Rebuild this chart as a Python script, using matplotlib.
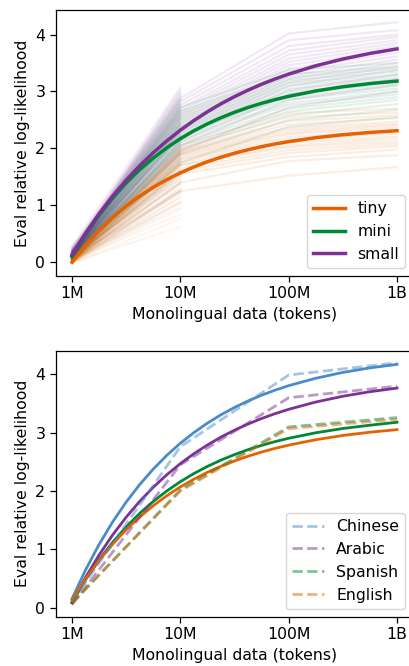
import matplotlib
matplotlib.use('Agg')
import matplotlib.pyplot as plt

# ---------------- data ----------------
tokens = [1e6, 1e7, 1e8, 1e9]
tick_labels = ['1M', '10M', '100M', '1B']
fit_tokens = [1.000e6, 1.334e6, 1.778e6, 2.371e6, 3.162e6, 4.217e6, 5.623e6, 7.499e6,
              1.000e7, 1.334e7, 1.778e7, 2.371e7, 3.162e7, 4.217e7, 5.623e7, 7.499e7,
              1.000e8, 1.778e8, 3.162e8, 5.623e8, 1.000e9]

sizes = ['tiny', 'mini', 'small']

# fitted curves (top panel)
tiny_fit = [0.000, 0.297, 0.558, 0.786, 0.986, 1.162, 1.316, 1.451,
            1.570, 1.674, 1.765, 1.845, 1.915, 1.976, 2.030, 2.078,
            2.119, 2.188, 2.240, 2.280, 2.311]
mini_fit = [0.100, 0.488, 0.829, 1.129, 1.394, 1.626, 1.831, 2.011,
            2.170, 2.310, 2.432, 2.540, 2.635, 2.719, 2.793, 2.858,
            2.915, 3.009, 3.083, 3.139, 3.183]
small_fit = [0.130, 0.508, 0.851, 1.161, 1.441, 1.695, 1.924, 2.132,
             2.320, 2.490, 2.644, 2.784, 2.910, 3.024, 3.128, 3.221,
             3.306, 3.452, 3.571, 3.669, 3.749]

# individual languages with data up to 1B (values at 1M, 10M, 100M, 1B)
tiny_long = [
    [0.00, 1.25, 1.52, 1.67], [0.02, 1.40, 1.78, 1.88], [-0.02, 1.55, 1.85, 1.98],
    [0.01, 1.60, 1.92, 2.04], [0.03, 1.65, 1.97, 2.08], [0.00, 1.70, 2.02, 2.12],
    [0.05, 1.72, 2.05, 2.17], [0.02, 1.76, 2.10, 2.21], [0.04, 1.80, 2.15, 2.26],
    [0.06, 1.82, 2.20, 2.31], [0.03, 1.85, 2.25, 2.36], [0.05, 1.88, 2.28, 2.40],
    [0.08, 1.90, 2.32, 2.43], [0.06, 1.93, 2.36, 2.47], [0.10, 1.95, 2.42, 2.53],
    [0.07, 1.97, 2.48, 2.58], [0.09, 2.00, 2.55, 2.63], [0.12, 2.05, 2.62, 2.70],
]
mini_long = [
    [0.05, 1.75, 2.38, 2.55], [0.08, 1.90, 2.50, 2.68], [0.06, 2.00, 2.58, 2.78],
    [0.10, 2.05, 2.65, 2.85], [0.07, 2.10, 2.70, 2.90], [0.09, 2.15, 2.76, 2.95],
    [0.12, 2.20, 2.80, 3.00], [0.10, 2.25, 2.86, 3.05], [0.11, 2.28, 2.90, 3.10],
    [0.13, 2.32, 2.95, 3.14], [0.12, 2.36, 3.00, 3.18], [0.14, 2.40, 3.05, 3.22],
    [0.15, 2.45, 3.10, 3.26], [0.13, 2.50, 3.15, 3.30], [0.16, 2.55, 3.20, 3.35],
    [0.18, 2.60, 3.25, 3.40], [0.15, 2.65, 3.30, 3.44], [0.20, 2.72, 3.38, 3.50],
]
small_long = [
    [0.08, 1.95, 2.72, 3.00], [0.10, 2.05, 2.85, 3.12], [0.12, 2.12, 2.95, 3.22],
    [0.11, 2.18, 3.02, 3.30], [0.14, 2.22, 3.10, 3.38], [0.13, 2.28, 3.16, 3.44],
    [0.15, 2.32, 3.22, 3.50], [0.16, 2.36, 3.28, 3.56], [0.14, 2.40, 3.34, 3.62],
    [0.17, 2.45, 3.40, 3.68], [0.18, 2.50, 3.46, 3.74], [0.16, 2.55, 3.52, 3.80],
    [0.19, 2.60, 3.58, 3.85], [0.20, 2.65, 3.65, 3.90], [0.18, 2.70, 3.72, 3.96],
    [0.22, 2.76, 3.80, 4.00], [0.21, 2.82, 3.90, 4.08], [0.25, 2.88, 4.02, 4.22],
]

# individual languages with data only at 1M and 10M
tiny_short_1m = [0.00, -0.02, 0.03, 0.01, 0.05, -0.01, 0.02, 0.04, 0.00, 0.06,
                 0.03, -0.03, 0.01, 0.07, 0.02, 0.04, 0.00, 0.05, 0.08, 0.03,
                 0.01, 0.06, 0.02, 0.04, 0.09, 0.00, 0.03, 0.05, 0.07, 0.10]
tiny_short_10m = [0.62, 0.76, 0.84, 0.93, 0.97, 1.04, 1.07, 1.13, 1.15, 1.21,
                  1.23, 1.29, 1.31, 1.37, 1.40, 1.43, 1.49, 1.51, 1.57, 1.60,
                  1.63, 1.69, 1.71, 1.77, 1.80, 1.84, 1.91, 1.94, 2.01, 2.10]
mini_short_1m = [0.05, 0.08, 0.03, 0.10, 0.06, 0.12, 0.04, 0.09, 0.07, 0.11,
                 0.13, 0.05, 0.08, 0.14, 0.10, 0.06, 0.12, 0.09, 0.15, 0.11,
                 0.07, 0.13, 0.10, 0.16, 0.12, 0.08, 0.14, 0.11, 0.17, 0.13]
mini_short_10m = [1.05, 1.26, 1.39, 1.53, 1.61, 1.71, 1.77, 1.86, 1.91, 1.99,
                  2.03, 2.11, 2.14, 2.21, 2.24, 2.31, 2.34, 2.41, 2.44, 2.51,
                  2.54, 2.61, 2.63, 2.69, 2.71, 2.77, 2.79, 2.85, 2.87, 2.95]
small_short_1m = [0.08, 0.12, 0.06, 0.15, 0.10, 0.18, 0.09, 0.14, 0.11, 0.20,
                  0.13, 0.07, 0.16, 0.12, 0.22, 0.10, 0.17, 0.14, 0.19, 0.11,
                  0.24, 0.15, 0.13, 0.21, 0.16, 0.18, 0.26, 0.14, 0.20, 0.28]
small_short_10m = [1.25, 1.46, 1.59, 1.73, 1.81, 1.91, 1.97, 2.06, 2.11, 2.19,
                   2.23, 2.31, 2.35, 2.43, 2.47, 2.55, 2.59, 2.66, 2.69, 2.75,
                   2.77, 2.83, 2.85, 2.91, 2.92, 2.97, 2.98, 3.03, 3.04, 3.08]

# bottom panel: selected languages
languages = ['Chinese', 'Arabic', 'Spanish', 'English']
chinese_data = [0.10, 2.76, 3.99, 4.20]
arabic_data = [0.05, 2.45, 3.60, 3.80]
spanish_data = [0.07, 2.02, 3.10, 3.26]
english_data = [0.08, 2.00, 3.07, 3.23]
chinese_fit = [0.150, 0.645, 1.083, 1.469, 1.810, 2.111, 2.377, 2.612,
               2.820, 3.003, 3.165, 3.308, 3.434, 3.546, 3.644, 3.731,
               3.808, 3.935, 4.035, 4.113, 4.173]
arabic_fit = [0.080, 0.515, 0.902, 1.246, 1.551, 1.823, 2.064, 2.279,
              2.470, 2.640, 2.790, 2.925, 3.044, 3.150, 3.244, 3.328,
              3.402, 3.527, 3.626, 3.704, 3.766]
spanish_fit = [0.090, 0.478, 0.819, 1.119, 1.384, 1.616, 1.821, 2.001,
               2.160, 2.300, 2.422, 2.530, 2.625, 2.709, 2.783, 2.848,
               2.905, 2.999, 3.073, 3.129, 3.180]
english_fit = [0.130, 0.490, 0.808, 1.088, 1.336, 1.555, 1.748, 1.919,
               2.070, 2.203, 2.321, 2.425, 2.516, 2.597, 2.669, 2.732,
               2.787, 2.880, 2.953, 3.009, 3.053]

# ---------------- styling ----------------
plt.rcParams.update({
    'font.size': 11.3,
    'axes.linewidth': 0.9,
    'xtick.major.size': 4.0,
    'ytick.major.size': 4.0,
    'xtick.major.width': 0.9,
    'ytick.major.width': 0.9,
})

size_colors = {'tiny': '#e66101', 'mini': '#008837', 'small': '#7b3294'}
lang_colors = {'Chinese': '#4b8bca', 'Arabic': '#7b3294',
               'Spanish': '#008837', 'English': '#e66101'}

fig = plt.figure(figsize=(4.10, 6.66), dpi=100)
ax1 = fig.add_axes([0.136, 0.5856, 0.872, 0.3994])
ax2 = fig.add_axes([0.136, 0.0740, 0.872, 0.3994])

longs = {'tiny': tiny_long, 'mini': mini_long, 'small': small_long}
shorts = {'tiny': (tiny_short_1m, tiny_short_10m),
          'mini': (mini_short_1m, mini_short_10m),
          'small': (small_short_1m, small_short_10m)}
fits = {'tiny': tiny_fit, 'mini': mini_fit, 'small': small_fit}

for s in sizes:
    c = size_colors[s]
    for y0, y1 in zip(*shorts[s]):
        ax1.plot(tokens[:2], [y0, y1], color=c, alpha=0.06, lw=1.6, zorder=1)
    for row in longs[s]:
        ax1.plot(tokens, row, color=c, alpha=0.11, lw=1.6, zorder=1)

for s in sizes:
    ax1.plot(fit_tokens, fits[s], color=size_colors[s], lw=2.5, label=s, zorder=3)

lang_data = {'Chinese': chinese_data, 'Arabic': arabic_data,
             'Spanish': spanish_data, 'English': english_data}
lang_fit = {'Chinese': chinese_fit, 'Arabic': arabic_fit,
            'Spanish': spanish_fit, 'English': english_fit}
for lang in languages:
    ax2.plot(fit_tokens, lang_fit[lang], color=lang_colors[lang], lw=2.0, zorder=2)
for lang in languages:
    ax2.plot(tokens, lang_data[lang], color=lang_colors[lang], lw=2.0, ls='--',
             alpha=0.5, label=lang, zorder=3)

for ax in (ax1, ax2):
    ax.set_xscale('log')
    ax.set_xticks(tokens)
    ax.set_xticklabels(tick_labels)
    ax.minorticks_off()
    ax.set_yticks([0, 1, 2, 3, 4])
    ax.set_xlabel('Monolingual data (tokens)')
    ax.set_ylabel('Eval relative log-likelihood')
    ax.legend(loc='lower right')

fig.savefig('out.png', dpi=100)
